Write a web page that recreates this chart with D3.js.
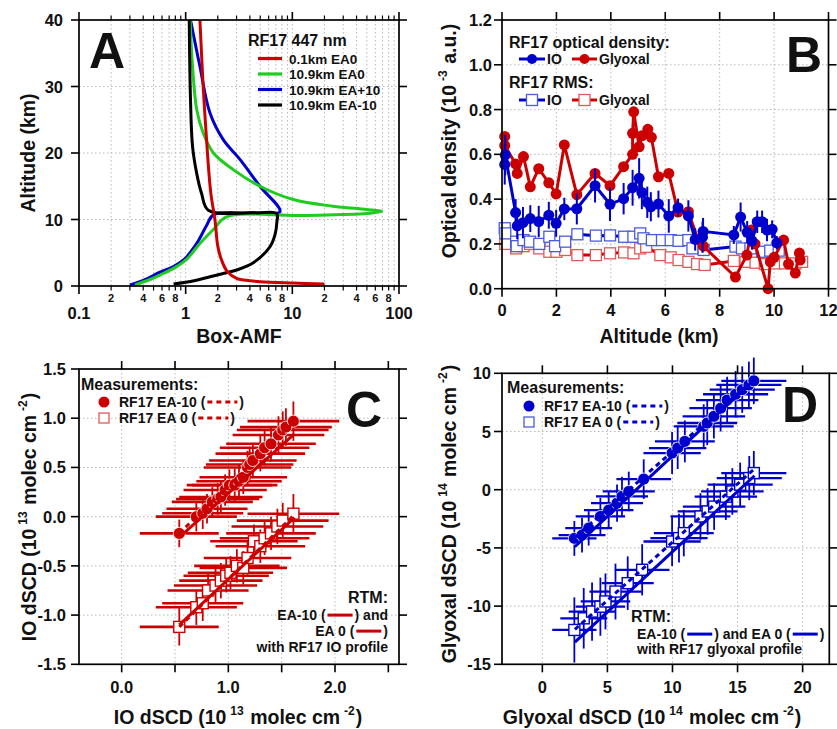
<!DOCTYPE html>
<html><head><meta charset="utf-8">
<script src="https://cdn.jsdelivr.net/npm/d3@7"></script>
<style>body{margin:0;background:#fff}svg{display:block}</style>
</head><body><svg id="chart" width="837" height="729"></svg>
<script>
// ================= DATA =================
// Panel A: Box-AMF profiles, pairs [box-AMF, altitude km]
const aRed01kmEA0 = [[1.36,40],[1.46,30],[1.6,20],[1.72,14],[1.88,10],[2.0,6],[2.17,3.9],[2.45,2.2],[3.0,1.15],[4.0,0.8],[5.0,0.65],[10,0.45],[20,0.3]];
const aGreen109EA0 = [[1.1,40],[1.16,33],[1.27,26.5],[1.46,23],[1.82,20],[2.79,17.5],[4.97,15],[10.2,13],[24,12],[49.6,11.5],[68.7,11.2],[49.6,10.9],[11.8,10.6],[2.42,10.4],[1.82,8.5],[1.36,6.4],[1.02,4.0],[0.8,2.8],[0.575,1.65],[0.45,0.9],[0.335,0.15]];
const aBlue109EAp10 = [[1.11,40],[1.36,33],[1.69,26],[2.25,22],[3.24,19],[4.97,15],[7.65,11.2],[4.0,11.0],[1.82,10.7],[1.57,9.1],[1.27,6.4],[0.97,4.0],[0.76,2.9],[0.56,2.0],[0.42,1.0],[0.3,0.15]];
const aBlack109EAm10 = [[1.08,40],[1.11,28],[1.16,21],[1.27,16.9],[1.41,13.9],[1.63,11.4],[4.5,11.0],[7.13,10.9],[7.15,9.5],[6.9,7.8],[6.17,5.9],[4.3,3.5],[3.0,2.4],[1.69,1.4],[1.2,0.8],[0.77,0.3]];
const aLegendLabels = ["0.1km EA0","10.9km EA0","10.9km EA+10","10.9km EA-10"];
const aMajorTicks = [0.1,1,10,100];
const aMinorLabels = [2,4,6,8];
const aYTicks = [0,10,20,30,40];

// Panel B: optical density vs altitude
const bIOAlt = [0.1,0.12,0.5,0.56,0.77,1.04,1.35,1.72,1.99,2.29,2.75,3.42,3.97,4.47,4.8,5.04,5.14,5.34,5.47,5.75,6.13,6.47,6.85,7.1,7.37,7.39,8.52,8.77,9.01,9.19,9.38,9.56,9.74,9.93,10.1];
const bIOOD  = [0.555,0.597,0.34,0.281,0.295,0.313,0.3,0.328,0.292,0.356,0.357,0.46,0.377,0.402,0.451,0.493,0.43,0.386,0.366,0.378,0.325,0.362,0.325,0.22,0.23,0.256,0.24,0.32,0.252,0.214,0.299,0.299,0.262,0.265,0.205];
const bIOErr = [0.09,0.09,0.06,0.06,0.07,0.06,0.07,0.06,0.06,0.05,0.07,0.075,0.075,0.07,0.08,0.09,0.075,0.07,0.065,0.06,0.075,0.04,0.07,0.05,0.07,0.06,0.04,0.065,0.05,0.04,0.05,0.05,0.05,0.04,0.03];
const bGlyAlt = [0.1,0.1,0.5,0.56,0.79,1.04,1.35,1.72,1.99,2.29,2.75,3.42,3.97,4.47,4.8,4.8,4.84,5.04,5.14,5.36,5.49,5.75,6.13,6.47,6.85,7.2,7.4,8.58,9.0,9.16,9.3,9.78,9.86,10.0,10.35,10.53,10.78,10.93,10.96];
const bGlyOD  = [0.68,0.64,0.557,0.515,0.59,0.455,0.536,0.473,0.423,0.642,0.42,0.515,0.46,0.545,0.6,0.694,0.79,0.634,0.683,0.712,0.676,0.5,0.515,0.342,0.344,0.22,0.19,0.052,0.15,0.262,0.2,0.0,0.12,0.14,0.217,0.11,0.07,0.159,0.128];
const bIORmsAlt = [0.1,0.12,0.52,0.54,0.79,1.03,1.37,1.74,1.95,2.32,2.77,3.45,3.97,4.49,4.83,5.08,5.2,5.51,5.88,6.2,6.49,6.85,7.0,7.41,8.58,8.82,9.13,9.56,9.86,10.17];
const bIORms    = [0.27,0.247,0.21,0.19,0.217,0.21,0.2,0.232,0.19,0.21,0.243,0.237,0.238,0.232,0.232,0.247,0.225,0.217,0.217,0.217,0.214,0.217,0.18,0.173,0.188,0.18,0.18,0.165,0.17,0.17];
const bGlyRmsAlt = [0.12,0.52,0.79,1.03,1.37,1.74,2.0,2.32,2.77,3.45,3.97,4.49,4.83,5.08,5.3,5.82,6.2,6.49,6.85,7.17,7.45,8.52,8.95,9.32,9.66,10.05,10.4,10.79,11.03];
const bGlyRms    = [0.2,0.18,0.19,0.2,0.18,0.165,0.165,0.173,0.15,0.15,0.158,0.162,0.158,0.18,0.187,0.15,0.14,0.128,0.12,0.11,0.106,0.124,0.12,0.116,0.11,0.113,0.113,0.113,0.12];
const bXTicks = [0,2,4,6,8,10,12];
const bYTicks = [0,0.2,0.4,0.6,0.8,1.0,1.2];

// Panel C: IO dSCD (1e13) model (x) vs measured (y)
const cEA10X    = [0.54,0.70,0.76,0.80,0.85,0.90,0.93,0.97,1.01,1.06,1.10,1.14,1.18,1.20,1.23,1.30,1.34,1.40,1.47,1.51,1.54,1.61];
const cEA10Y    = [-0.17,0.0,0.035,0.08,0.15,0.18,0.2,0.27,0.32,0.32,0.36,0.4,0.5,0.53,0.57,0.64,0.7,0.74,0.83,0.88,0.91,0.97];
const cEA10XErr = [0.37,0.38,0.38,0.38,0.38,0.39,0.39,0.39,0.4,0.4,0.4,0.41,0.41,0.41,0.41,0.42,0.42,0.42,0.43,0.43,0.43,0.43];
const cEA10YErr = [0.14,0.15,0.16,0.15,0.15,0.16,0.16,0.16,0.16,0.17,0.17,0.17,0.17,0.18,0.18,0.18,0.18,0.18,0.19,0.19,0.19,0.2];
const cEA0X     = [0.54,0.70,0.76,0.81,0.88,0.93,0.98,1.02,1.08,1.14,1.18,1.24,1.30,1.34,1.40,1.46,1.51,1.61];
const cEA0Y     = [-1.12,-0.92,-0.88,-0.75,-0.7,-0.65,-0.6,-0.57,-0.5,-0.52,-0.42,-0.25,-0.3,-0.22,-0.17,-0.1,-0.04,0.03];
const cEA0XErr  = [0.37,0.38,0.38,0.38,0.39,0.39,0.4,0.4,0.4,0.41,0.41,0.41,0.42,0.42,0.42,0.43,0.43,0.43];
const cEA0YErr  = [0.19,0.18,0.18,0.18,0.18,0.18,0.17,0.17,0.17,0.17,0.17,0.17,0.17,0.17,0.17,0.18,0.18,0.2];
const cFitX       = [0.54,1.62];
const cMeasEA10Y  = [-0.17,0.97];
const cRtmEA10Y   = [-0.21,0.84];
const cMeasEA0Y   = [-1.12,0.02];
const cRtmEA0Y    = [-1.10,-0.01];
const cXTicks = [0,0.5,1,1.5,2,2.5];
const cXLabels = [0,1,2];
const cYTicks = [-1.5,-1,-0.5,0,0.5,1,1.5];

// Panel D: Glyoxal dSCD (1e14) model (x) vs measured (y)
const dEA10X    = [2.46,3.05,3.56,4.46,5.1,5.74,6.12,6.64,7.79,9.97,10.4,10.95,12.4,12.67,13.18,13.7,14.2,14.85,15.36,15.87,16.25];
const dEA10Y    = [-4.18,-3.9,-3.3,-2.3,-1.75,-1.15,-0.58,-0.15,0.91,3.15,3.58,4.15,5.44,5.73,6.3,7.0,7.7,8.2,8.6,9.0,9.35];
const dEA10XErr = [1.7,1.8,1.8,1.9,1.9,2.0,2.0,2.0,2.1,2.2,2.2,2.3,2.3,2.3,2.4,2.4,2.4,2.5,2.5,2.5,2.5];
const dEA10YErr = [1.5,1.5,1.5,1.6,1.6,1.6,1.7,1.7,1.7,1.8,1.8,1.8,1.9,1.9,1.9,2.0,2.0,2.0,2.0,2.0,2.0];
const dEA0X     = [2.46,3.18,3.82,4.46,4.85,5.62,6.56,7.67,9.97,10.5,10.87,12.15,12.7,13.2,14.1,14.6,15.2,15.9,16.25];
const dEA0Y     = [-12.05,-11.05,-10.47,-10.05,-9.6,-8.75,-8.03,-6.88,-4.45,-4.16,-3.73,-2.3,-1.87,-1.45,-0.6,-0.15,0.43,1.0,1.43];
const dEA0XErr  = [1.7,1.8,1.8,1.9,1.9,2.0,2.0,2.1,2.2,2.2,2.3,2.3,2.3,2.4,2.4,2.4,2.5,2.5,2.5];
const dEA0YErr  = [2.8,2.6,2.5,2.5,2.4,2.4,2.3,2.2,2.1,2.1,2.0,2.0,2.0,2.0,2.0,2.0,1.9,1.9,1.9];
const dFitX      = [2.5,16.3];
const dMeasEA10Y = [-4.1,9.5];
const dRtmEA10Y  = [-4.9,9.45];
const dMeasEA0Y  = [-12.0,1.8];
const dRtmEA0Y   = [-13.1,1.2];
const dXTicks = [0,5,10,15,20];
const dYTicks = [-15,-10,-5,0,5,10];

// ================= DRAWING =================
const svg = d3.select("#chart");
const sans = '"Liberation Sans", Arial, Helvetica, sans-serif';
const RED = "#cc0000", BLUE = "#0000cc", GREEN = "#1fcc1f", BLACK = "#000000";
const RED_L = "#e05a5a", BLUE_L = "#4a5be0";
const GRID = "#b8b8b8", INK = "#111";
svg.append("rect").attr("width",837).attr("height",729).attr("fill","#fff");

function text(x,y,s,size,anchor){
  return svg.append("text").attr("x",x).attr("y",y).attr("font-size",size).attr("font-weight","bold")
    .attr("font-family",sans).attr("text-anchor",anchor||"start").attr("fill",INK).text(s);
}
function richText(x,y,parts,size,rot){
  const t = svg.append("text").attr("font-size",size).attr("font-weight","bold").attr("font-family",sans)
    .attr("text-anchor","middle").attr("fill",INK);
  if(rot) t.attr("transform",`translate(${x},${y}) rotate(-90)`); else t.attr("x",x).attr("y",y);
  let up=false;
  parts.forEach(p=>{
    const sup = Array.isArray(p);
    const ts = t.append("tspan").text(sup?p[0]:p);
    if(sup){ ts.attr("font-size",size*0.62).attr("dy",-size*0.48).attr("dx",size*0.2); up=true; }
    else if(up){ ts.attr("dy",size*0.48).attr("dx",size*0.05); up=false; }
  });
  return t;
}
function line(x1,y1,x2,y2,c,w,dash){
  return svg.append("line").attr("x1",x1).attr("y1",y1).attr("x2",x2).attr("y2",y2)
    .attr("stroke",c).attr("stroke-width",w||1).attr("stroke-dasharray",dash||null);
}
function gridX(xs,sx,y0,y1){ xs.forEach(v=>line(sx(v),y0,sx(v),y1,GRID,1,"1.5,2.5")); }
function gridY(ys,sy,x0,x1){ ys.forEach(v=>line(x0,sy(v),x1,sy(v),GRID,1,"1.5,2.5")); }
function frame(x0,y0,x1,y1){
  svg.append("rect").attr("x",x0).attr("y",y0).attr("width",x1-x0).attr("height",y1-y0)
    .attr("fill","none").attr("stroke","#000").attr("stroke-width",1.7);
}
function ticksX(vals,sx,y,len,w){ vals.forEach(v=>line(sx(v),y,sx(v),y+len,"#000",w||1.6)); }
function ticksY(vals,sy,x,len,w){ vals.forEach(v=>line(x,sy(v),x+len,sy(v),"#000",w||1.6)); }
function row(x,y,pieces,size,alignRight){
  const g = svg.append("g"); let cx=0; const items=[];
  pieces.forEach(p=>{
    if(typeof p==="string"){
      const t = g.append("text").attr("y",y).attr("font-size",size).attr("font-weight","bold")
        .attr("font-family",sans).attr("fill",INK).text(p);
      items.push({t,x:cx}); cx += t.node().getComputedTextLength();
    } else { items.push({p,x:cx+2}); cx += p.w+4; }
  });
  const off = alignRight ? x-cx : x;
  items.forEach(it=>{
    if(it.t) it.t.attr("x",off+it.x);
    else g.append("line").attr("x1",off+it.x).attr("x2",off+it.x+it.p.w).attr("y1",y-size*0.35).attr("y2",y-size*0.35)
      .attr("stroke",it.p.c).attr("stroke-width",3).attr("stroke-dasharray",it.p.dash||null);
  });
}
function square(x,y,s,c,w){
  return svg.append("rect").attr("x",x-s/2).attr("y",y-s/2).attr("width",s).attr("height",s)
    .attr("fill","#fff").attr("stroke",c).attr("stroke-width",w||1.4);
}

// ---------- Panel A ----------
{
  const x = d3.scaleLog().domain([0.1,100]).range([79,399]);
  const y = d3.scaleLinear().domain([0,40]).range([286,20]);
  const minor=[]; [0.1,1,10].forEach(d=>{ for(let k=2;k<=9;k++) minor.push(d*k); });
  gridX(minor.concat([1,10]),x,20,286);
  gridY([10,20,30],y,79,399);
  const gen = d3.line().x(d=>x(d[0])).y(d=>y(d[1])).curve(d3.curveCatmullRom.alpha(0.5));
  [[aBlue109EAp10,BLUE],[aGreen109EA0,GREEN],[aBlack109EAm10,BLACK],[aRed01kmEA0,RED]].forEach(([d,c])=>{
    svg.append("path").attr("d",gen(d)).attr("fill","none").attr("stroke",c).attr("stroke-width",3).attr("stroke-linejoin","round");
  });
  frame(79,20,399,286);
  ticksX(aMajorTicks,x,286,8); ticksX(minor,x,286,4.5,1.2);
  ticksX(aMajorTicks,x,20,-8); ticksX(minor,x,20,-4.5,1.2);
  ticksY(aYTicks,y,79,-8); ticksY(aYTicks,y,399,8);
  aYTicks.forEach(v=>text(63,y(v)+6,String(v),16.5,"end"));
  [0.1,1,10].forEach(d=>aMinorLabels.forEach(k=>text(x(d*k),302,String(k),11,"middle")));
  aMajorTicks.forEach(v=>text(x(v),319,String(v),16.5,"middle"));
  text(239,343,"Box-AMF",19.5,"middle");
  svg.append("text").attr("transform","translate(35,153) rotate(-90)").attr("text-anchor","middle")
    .attr("font-size",19.5).attr("font-weight","bold").attr("font-family",sans).attr("fill",INK).text("Altitude (km)");
  text(89,68,"A",50);
  text(248,46,"RF17 447 nm",16);
  const cols=[RED,GREEN,BLUE,BLACK]; const ry=[58.5,74,89.5,105];
  aLegendLabels.forEach((l,i)=>{ line(258,ry[i],282,ry[i],cols[i],3.2); text(289,ry[i]+5,l,13.5); });
}

// ---------- Panel B ----------
{
  const x = d3.scaleLinear().domain([0,12]).range([502,828.5]);
  const y = d3.scaleLinear().domain([0,1.2]).range([288.7,20]);
  gridX([2,4,6,8,10],x,20,288.7); gridY([0.2,0.4,0.6,0.8,1.0],y,502,828.5);
  const gen = d3.line().x(d=>x(d[0])).y(d=>y(d[1]));
  const z = (a,b)=>a.map((v,i)=>[v,b[i]]);
  svg.append("path").attr("d",gen(z(bGlyRmsAlt,bGlyRms))).attr("fill","none").attr("stroke",RED).attr("stroke-width",3);
  bGlyRmsAlt.forEach((a,i)=>square(x(a),y(bGlyRms[i]),11,RED_L,1.3));
  svg.append("path").attr("d",gen(z(bIORmsAlt,bIORms))).attr("fill","none").attr("stroke",BLUE).attr("stroke-width",3);
  bIORmsAlt.forEach((a,i)=>square(x(a),y(bIORms[i]),11,BLUE_L,1.3));
  svg.append("path").attr("d",gen(z(bGlyAlt,bGlyOD))).attr("fill","none").attr("stroke",RED).attr("stroke-width",3);
  bGlyAlt.forEach((a,i)=>svg.append("circle").attr("cx",x(a)).attr("cy",y(bGlyOD[i])).attr("r",5.5).attr("fill",RED));
  bIOAlt.forEach((a,i)=>line(x(a),y(bIOOD[i]-bIOErr[i]),x(a),y(bIOOD[i]+bIOErr[i]),BLUE,2));
  svg.append("path").attr("d",gen(z(bIOAlt,bIOOD))).attr("fill","none").attr("stroke",BLUE).attr("stroke-width",3);
  bIOAlt.forEach((a,i)=>svg.append("circle").attr("cx",x(a)).attr("cy",y(bIOOD[i])).attr("r",5.5).attr("fill",BLUE));
  frame(502,20,828.5,288.7);
  ticksX(bXTicks,x,288.7,8); ticksX(bXTicks,x,20,-8);
  ticksY(bYTicks,y,502,-8); ticksY(bYTicks,y,828.5,8);
  bYTicks.forEach(v=>text(492,y(v)+6,v.toFixed(1),16.5,"end"));
  bXTicks.forEach(v=>text(x(v),316,String(v),16.5,"middle"));
  text(659,343,"Altitude (km)",19.5,"middle");
  richText(456,141,["Optical density (10",["-3"]," a.u.)"],19.5,true);
  text(786,72,"B",50);
  text(509,48,"RF17 optical density:",16);
  text(509,88,"RF17 RMS:",16);
  line(519,59,545,59,BLUE,3); svg.append("circle").attr("cx",532).attr("cy",59).attr("r",5).attr("fill",BLUE); text(547,64,"IO",14);
  line(572,59,597,59,RED,3); svg.append("circle").attr("cx",584.5).attr("cy",59).attr("r",5).attr("fill",RED); text(599,64,"Glyoxal",14);
  line(519,100,545,100,BLUE,3); square(532,100,11,BLUE_L,1.3); text(547,105,"IO",14);
  line(572,100,597,100,RED,3); square(584.5,100,11,RED_L,1.3); text(599,105,"Glyoxal",14);
}

// ---------- scatter panels ----------
function scatterPanel(o){
  const {x,y,col} = o;
  o.sets.forEach(s=>{
    s.X.forEach((v,i)=>{
      line(x(v-s.XE[i]),y(s.Y[i]),x(v+s.XE[i]),y(s.Y[i]),col,o.hw);
      line(x(v),y(s.Y[i]-s.YE[i]),x(v),y(s.Y[i]+s.YE[i]),col,1.8);
    });
  });
  o.sets.forEach(s=>{
    s.X.forEach((v,i)=>{
      if(s.filled) svg.append("circle").attr("cx",x(v)).attr("cy",y(s.Y[i])).attr("r",6).attr("fill",col).attr("stroke","#fff").attr("stroke-width",0.8);
      else square(x(v),y(s.Y[i]),11,col,1.4);
    });
  });
  o.fits.forEach(f=>{
    line(x(f.X[0]),y(f.Y[0]),x(f.X[1]),y(f.Y[1]),col,3,f.dash);
  });
}

// ---------- Panel C ----------
{
  const x = d3.scaleLinear().domain([-0.4,2.6]).range([79,399]);
  const y = d3.scaleLinear().domain([-1.5,1.5]).range([664.3,369]);
  gridX([0,0.5,1,1.5,2],x,369,664.3); gridY([-1,-0.5,0,0.5,1],y,79,399);
  scatterPanel({x,y,col:RED,hw:2.6,
    sets:[{X:cEA0X,Y:cEA0Y,XE:cEA0XErr,YE:cEA0YErr,filled:false},{X:cEA10X,Y:cEA10Y,XE:cEA10XErr,YE:cEA10YErr,filled:true}],
    fits:[{X:cFitX,Y:cMeasEA10Y,dash:"5,4"},{X:cFitX,Y:cRtmEA10Y},{X:cFitX,Y:cMeasEA0Y,dash:"5,4"},{X:cFitX,Y:cRtmEA0Y}]});
  frame(79,369,399,664.3);
  ticksX(cXTicks,x,664.3,8); ticksX(cXTicks,x,369,-8);
  ticksY(cYTicks,y,79,-8); ticksY(cYTicks,y,399,8);
  cYTicks.forEach(v=>text(66,y(v)+6,v.toFixed(1),16.5,"end"));
  cXLabels.forEach(v=>text(x(v),693,v.toFixed(1),16.5,"middle"));
  richText(238,724,["IO dSCD (10",["13"]," molec cm",["-2"],")"],19.5,false);
  richText(36,517,["IO dSCD (10",["13"]," molec cm",["-2"],")"],19.5,true);
  text(346,427,"C",50);
  text(81,390,"Measurements:",16);
  svg.append("circle").attr("cx",104).attr("cy",402).attr("r",5.5).attr("fill",RED);
  row(119,407,["RF17 EA-10 (",{w:30,c:RED,dash:"5,4"},")"],14,false);
  square(104,418,10,RED_L,1.3);
  row(119,423,["RF17 EA 0 (",{w:30,c:RED,dash:"5,4"},")"],14,false);
  row(388,603,["RTM:"],16,true);
  row(388,620,["EA-10 (",{w:25,c:RED},") and"],14,true);
  row(388,636,["EA 0 (",{w:25,c:RED},")"],14,true);
  row(388,652,["with RF17 IO profile"],14,true);
}

// ---------- Panel D ----------
{
  const x = d3.scaleLinear().domain([-3.1,22.05]).range([502,829.3]);
  const y = d3.scaleLinear().domain([-15,10]).range([664.3,373.3]);
  gridX([0,5,10,15,20],x,373.3,664.3); gridY([-10,-5,0,5],y,502,829.3);
  scatterPanel({x,y,col:BLUE,hw:2.3,
    sets:[{X:dEA0X,Y:dEA0Y,XE:dEA0XErr,YE:dEA0YErr,filled:false},{X:dEA10X,Y:dEA10Y,XE:dEA10XErr,YE:dEA10YErr,filled:true}],
    fits:[{X:dFitX,Y:dMeasEA10Y,dash:"5,4"},{X:dFitX,Y:dRtmEA10Y},{X:dFitX,Y:dMeasEA0Y,dash:"5,4"},{X:dFitX,Y:dRtmEA0Y}]});
  frame(502,373.3,829.3,664.3);
  ticksX(dXTicks,x,664.3,8); ticksX(dXTicks,x,373.3,-8);
  ticksY(dYTicks,y,502,-8); ticksY(dYTicks,y,829.3,8);
  dYTicks.forEach(v=>text(491,y(v)+6,String(v),16.5,"end"));
  dXTicks.forEach(v=>text(x(v),693,String(v),16.5,"middle"));
  richText(652,724,["Glyoxal dSCD (10",["14"]," molec cm",["-2"],")"],19.5,false);
  richText(456,514,["Glyoxal dSCD (10",["14"]," molec cm",["-2"],")"],19.5,true);
  text(782,422,"D",50);
  text(507,393,"Measurements:",16);
  svg.append("circle").attr("cx",529).attr("cy",406).attr("r",5.5).attr("fill",BLUE);
  row(544,411,["RF17 EA-10 (",{w:30,c:BLUE,dash:"5,4"},")"],14,false);
  square(529,422,10,BLUE_L,1.3);
  row(544,427,["RF17 EA 0 (",{w:30,c:BLUE,dash:"5,4"},")"],14,false);
  row(631,622,["RTM:"],16,false);
  row(637,639,["EA-10 (",{w:25,c:BLUE},") and EA 0 (",{w:25,c:BLUE},")"],14,false);
  row(637,654,["with RF17 glyoxal profile"],14,false);
}
</script></body></html>
